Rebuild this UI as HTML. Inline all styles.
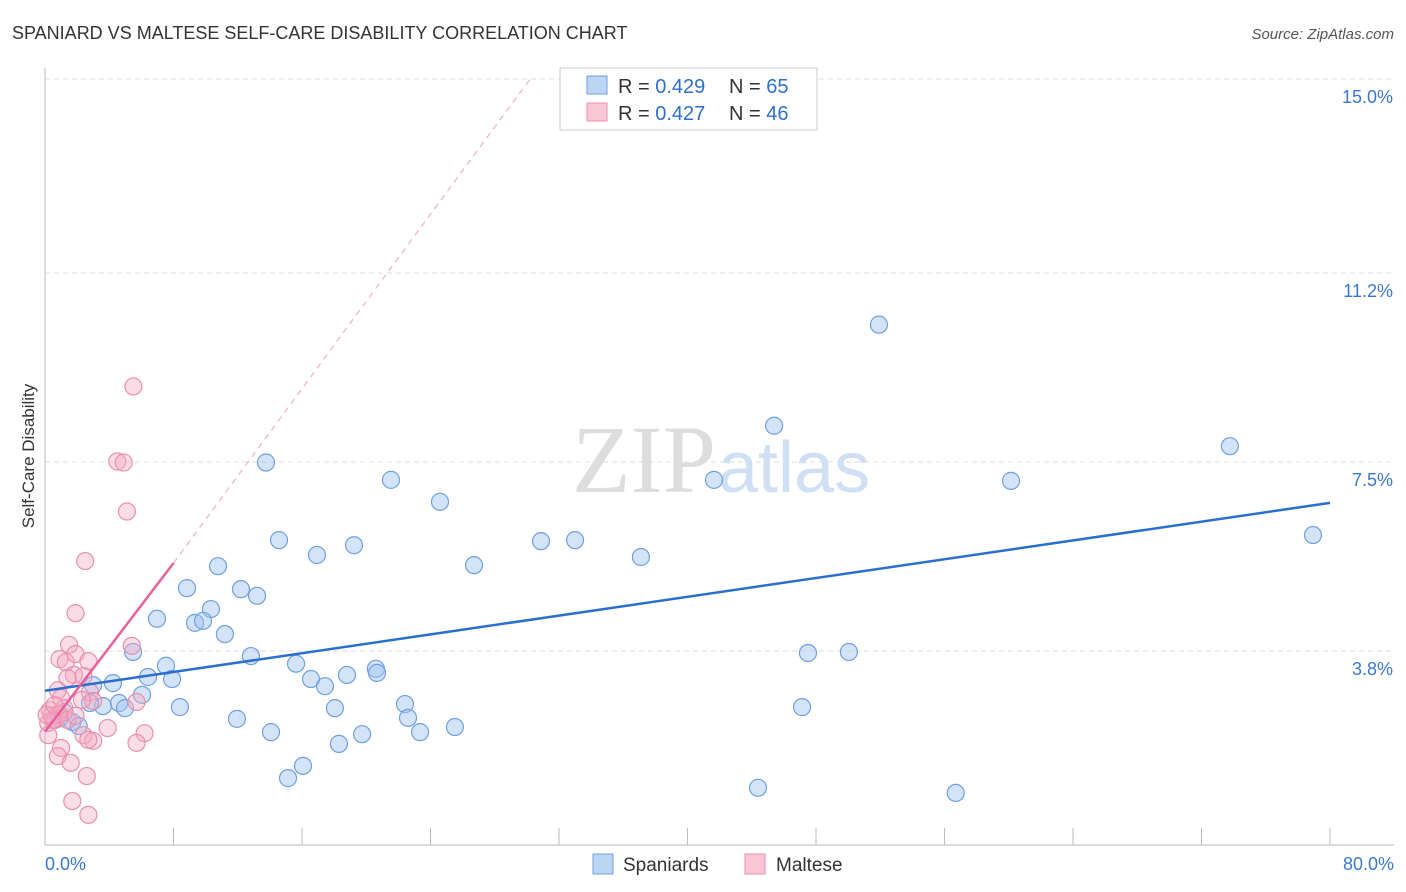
<!DOCTYPE html>
<html><head><meta charset="utf-8"><style>
body{margin:0;background:#fff;font-family:"Liberation Sans",sans-serif}
svg{display:block}
</style></head><body>
<svg id="c" width="1406" height="892">
<text x="12" y="39" font-size="18" fill="#333">SPANIARD VS MALTESE SELF-CARE DISABILITY CORRELATION CHART</text>
<text x="1394" y="39" font-size="15" fill="#555" font-style="italic" text-anchor="end">Source: ZipAtlas.com</text>
<text x="0" y="0" transform="translate(34,456) rotate(-90)" font-size="17" fill="#333" text-anchor="middle">Self-Care Disability</text>
<g id="grid"></g>
<text x="716" y="492" font-size="96" font-family="Liberation Serif,serif" fill="#ddd" text-anchor="end">ZIP</text>
<text x="718" y="492" font-size="72" fill="#cfe0f5">atlas</text>
<g id="pts"></g>
<g id="lines"></g>
<g>
<rect x="560" y="68" width="257" height="62" fill="#fff" stroke="#ccc"/>
<rect x="587" y="76" width="20" height="18" fill="#bcd5f5" stroke="#6fa0e0"/>
<rect x="587" y="103" width="20" height="18" fill="#fac6d6" stroke="#e890ae"/>
<text x="618" y="93" font-size="20" fill="#333">R = <tspan fill="#2f6fd0">0.429</tspan><tspan x="729">N = </tspan><tspan fill="#2f6fd0">65</tspan></text>
<text x="618" y="120" font-size="20" fill="#333">R = <tspan fill="#2f6fd0">0.427</tspan><tspan x="729">N = </tspan><tspan fill="#2f6fd0">46</tspan></text>
</g>
<g>
<rect x="593" y="854" width="20" height="20" fill="#bcd5f5" stroke="#6fa0e0"/>
<text x="623" y="871" font-size="19" fill="#333">Spaniards</text>
<rect x="745" y="854" width="20" height="20" fill="#fac6d6" stroke="#e890ae"/>
<text x="776" y="871" font-size="19" fill="#333">Maltese</text>
</g>
</svg>
<script>
const yTicks=[15.0,11.2,7.5,3.8];
const yTickLabels=["15.0%","11.2%","7.5%","3.8%"];
const xTickLabels=["0.0%","80.0%"];
const spaniardsX=[13.76,14.57,16.93,19.24,21.54,24.59,26.71,30.88,33.0,37.1,41.65,45.39,51.92,60.14,73.77,78.94,10.77,8.84,12.2,13.2,10.33,6.97,9.34,9.84,11.2,5.48,7.53,12.82,15.63,6.41,7.91,16.56,17.43,18.8,20.6,20.67,6.04,4.23,2.99,3.61,4.61,4.98,8.4,2.8,18.05,22.41,22.6,11.95,14.07,23.35,25.52,19.74,18.3,16.06,15.13,44.39,56.7,47.5,50.05,47.13,0.9,1.7,2.1,0.6,1.2];
const spaniardsY=[7.49,5.97,5.68,5.87,7.15,6.72,5.48,5.95,5.97,5.64,7.15,8.21,10.19,7.13,7.81,6.07,5.46,5.03,5.01,4.88,4.62,4.43,4.35,4.39,4.13,3.78,3.51,3.70,3.55,3.29,3.25,3.25,3.11,3.33,3.45,3.37,2.94,3.17,3.13,2.72,2.78,2.68,2.70,2.78,2.68,2.76,2.49,2.47,2.21,2.21,2.31,2.17,1.98,1.55,1.31,1.12,1.02,3.76,3.78,2.70,2.48,2.41,2.33,2.45,2.60];
const malteseX=[5.5,4.5,4.9,5.1,2.5,1.9,1.5,0.9,1.3,1.9,2.7,5.4,1.8,2.4,1.4,2.8,0.8,1.0,3.0,5.7,0.3,0.4,0.2,0.6,0.8,1.2,3.9,6.2,2.4,3.0,2.7,5.7,1.0,0.8,1.6,2.6,1.7,2.7,0.9,0.5,0.2,1.4,1.9,0.1,0.6,2.3];
const malteseY=[8.98,7.51,7.49,6.53,5.56,4.54,3.92,3.64,3.58,3.74,3.60,3.90,3.33,3.31,3.27,2.99,3.03,2.88,2.82,2.80,2.64,2.53,2.39,2.45,2.57,2.68,2.29,2.19,2.15,2.04,2.06,2.00,1.90,1.74,1.61,1.35,0.86,0.59,2.55,2.45,2.15,2.45,2.53,2.55,2.74,2.84];
const blueTrend=[0,3.02,80,6.70];
const pinkTrend=[0,2.22,8,5.52];
const pinkDashEnd=[30.2,15.0];
const NS='http://www.w3.org/2000/svg';
const X=v=>45+v/80*1285, Y=v=>845-v/15*766;
function mk(t,a,p){const e=document.createElementNS(NS,t);for(const k in a)e.setAttribute(k,a[k]);p.appendChild(e);return e;}
const g=document.getElementById('grid');
yTicks.forEach((t,i)=>{
 const l=mk('line',{x1:45,x2:1394,y1:Y(t),y2:Y(t),stroke:'#ddd','stroke-dasharray':'5,4'},g);
 
 
 const tx=mk('text',{x:1393,y:Y(t)+24,'font-size':18,fill:'#3a78d0','text-anchor':'end'},g);
 tx.textContent=yTickLabels[i];
 
 
});
const ax=mk('line',{x1:45,x2:45,y1:68,y2:845,stroke:'#bbb'},g);


const bx=mk('line',{x1:45,x2:1394,y1:845,y2:845,stroke:'#bbb'},g);


for(let i=0;i<=10;i++){
 const t=mk('line',{x1:X(i*8),x2:X(i*8),y1:828,y2:845,stroke:'#bbb'},g);
 
 
}
[[0,'start',45],[1,'end',1394]].forEach(([i,a,x])=>{
 const tx=mk('text',{x:x,y:870,'font-size':18,fill:'#3a78d0','text-anchor':a},g);
 tx.textContent=xTickLabels[i];
 
 
});
const p=document.getElementById('pts');
spaniardsX.forEach((v,i)=>{
 const c=mk('circle',{cx:X(v),cy:Y(spaniardsY[i]),r:8.5,fill:'rgba(160,196,240,0.45)',stroke:'#6fa0e0','stroke-width':1.2},p);
 
 
});
malteseX.forEach((v,i)=>{
 const c=mk('circle',{cx:X(v),cy:Y(malteseY[i]),r:8.5,fill:'rgba(245,170,195,0.4)',stroke:'#e890ae','stroke-width':1.2},p);
 
 
});
const L=document.getElementById('lines');
const b=mk('line',{x1:X(blueTrend[0]),y1:Y(blueTrend[1]),x2:X(blueTrend[2]),y2:Y(blueTrend[3]),stroke:'#2a6fd0','stroke-width':2.5},L);


const pd=mk('line',{x1:X(pinkTrend[2]),y1:Y(pinkTrend[3]),x2:X(pinkDashEnd[0]),y2:Y(pinkDashEnd[1]),stroke:'#f0b0c4','stroke-width':1.2,'stroke-dasharray':'6,5'},L);


const pl=mk('line',{x1:X(pinkTrend[0]),y1:Y(pinkTrend[1]),x2:X(pinkTrend[2]),y2:Y(pinkTrend[3]),stroke:'#e8609a','stroke-width':2.5},L);


</script>
</body></html>
